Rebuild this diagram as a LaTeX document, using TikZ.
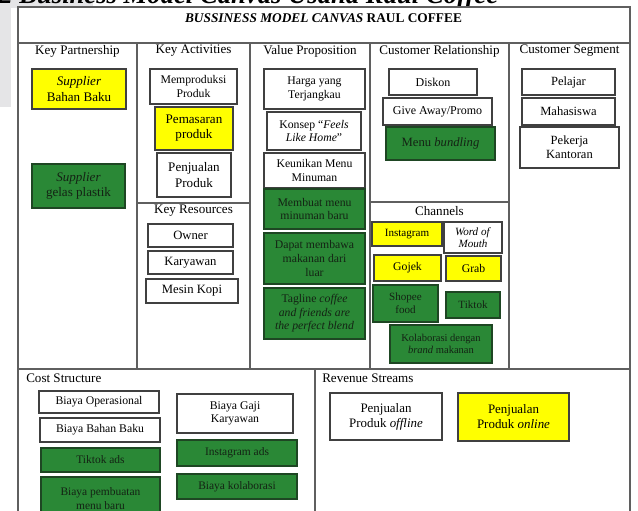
\documentclass[tikz,border=0pt]{standalone}
\usepackage{fontspec}
\setmainfont{Liberation Serif}
\definecolor{bmcgreen}{RGB}{42,136,54}
\definecolor{bmcyellow}{RGB}{255,255,0}
\definecolor{framegray}{RGB}{95,95,95}
\definecolor{pagegray}{RGB}{229,229,231}
\definecolor{gboxedge}{RGB}{30,70,35}
\definecolor{gtext}{RGB}{20,35,20}
\newcommand\bmcbox[7]{\node[#2, minimum width={(#5-#3)*0.75pt}, minimum height={(#6-#4)*0.75pt}] (#1) at ({(#3+#5)/2},{(#4+#6)/2}) {#7};}
\tikzset{
  fs/.style 2 args={font=\fontsize{#1}{#2}\selectfont},
  basebox/.style={draw=black!75, line width=0.8pt, inner sep=1pt, align=center, text=black, fs={9}{10.3}},
  wbox/.style={basebox, fill=white},
  ybox/.style={basebox, fill=bmcyellow},
  gbox/.style={basebox, fill=bmcgreen, draw=gboxedge, text=gtext},
  frame/.style={draw=framegray, line width=0.8pt},
  head/.style={fs={9.8}{11}, text=black, inner sep=0pt},
}
\begin{document}
\begin{tikzpicture}[x=0.75pt, y=-0.75pt]
\useasboundingbox (0,0) rectangle (638,510);
\clip (0,0) rectangle (638,510);
% page background bits
\fill[pagegray] (0,0) rectangle (93,8);
\fill[pagegray] (0,0) rectangle (11,107);
\node[anchor=base west, inner sep=0pt, font=\fontsize{20}{22}\selectfont\bfseries\itshape] (caption) at (-1,4) {2 Business Model Canvas Usaha Raul Coffee};
% frame
\fill[white] (18,8) rectangle (630,530);
\draw[frame] (18,7) rectangle (630,530);
\draw[frame] (18,43) -- (630,43);
\draw[frame] (137,43) -- (137,369);
\draw[frame] (250,43) -- (250,369);
\draw[frame] (370,43) -- (370,369);
\draw[frame] (509,43) -- (509,369);
\draw[frame] (18,369) -- (630,369);
\draw[frame] (137,203) -- (250,203);
\draw[frame] (370,202) -- (509,202);
\draw[frame] (315,369) -- (315,530);
% title
\node[fs={11.6}{13}, font=\bfseries, inner sep=0pt] (title) at (323.5,18) {\textit{BUSSINESS MODEL CANVAS} RAUL COFFEE};
% headers
\node[head] (hkp) at (77.5,51) {Key Partnership};
\node[head] (hka) at (193.5,51) {Key Activities};
\node[head] (hvp) at (310,51) {Value Proposition};
\node[head] (hcr) at (439.5,51) {Customer Relationship};
\node[head] (hcs) at (569.5,51) {Customer Segment};
\node[head] (hkr) at (193.5,211) {Key Resources};
\node[head] (hch) at (439.5,211) {Channels};
\node[head, anchor=west] (hcost) at (26,378) {Cost Structure};
\node[head, anchor=west] (hrev) at (322,378) {Revenue Streams};
% Key partnership
\bmcbox{kp1}{ybox, fs={9.8}{11.5}}{32}{69}{126}{109}{\textit{Supplier}\\Bahan Baku}
\bmcbox{kp2}{gbox, fs={9.8}{11.5}}{32}{164}{125}{208}{\textit{Supplier}\\gelas plastik}
% Key activities
\bmcbox{ka1}{wbox, fs={8.8}{10}}{150}{69}{237}{104}{Memproduksi\\Produk}
\bmcbox{ka2}{ybox, fs={9.8}{11.3}}{155}{107}{233}{150}{Pemasaran\\produk}
\bmcbox{ka3}{wbox, fs={9.8}{11.3}}{157}{153}{231}{197}{Penjualan\\Produk}
% Key resources
\bmcbox{kr1}{wbox, fs={9.5}{11}}{148}{224}{233}{247}{Owner}
\bmcbox{kr2}{wbox, fs={9.5}{11}}{148}{251}{233}{274}{Karyawan}
\bmcbox{kr3}{wbox, fs={9.5}{11}}{146}{279}{238}{303}{Mesin Kopi}
% Value proposition
\bmcbox{vp1}{wbox, fs={8.8}{10}}{264}{69}{365}{109}{Harga yang\\Terjangkau}
\bmcbox{vp2}{wbox, fs={8.8}{10}}{267}{112}{361}{150}{Konsep “\textit{Feels}\\\textit{Like Home}”}
\bmcbox{vp3}{wbox, fs={8.8}{10}}{264}{153}{365}{188}{Keunikan Menu\\Minuman}
\bmcbox{vp4}{gbox, fs={8.8}{10}}{264}{189}{365}{229}{Membuat menu\\minuman baru}
\bmcbox{vp5}{gbox, fs={8.8}{10.2}}{264}{233}{365}{284}{Dapat membawa\\makanan dari\\luar}
\bmcbox{vp6}{gbox, fs={8.8}{10.2}}{264}{288}{365}{339}{Tagline \textit{coffee}\\\textit{and friends are}\\\textit{the perfect blend}}
% Customer relationship
\bmcbox{cr1}{wbox, fs={9}{10.3}}{389}{69}{477}{95}{Diskon}
\bmcbox{cr2}{wbox, fs={9}{10.3}}{383}{98}{492}{125}{Give Away/Promo}
\bmcbox{cr3}{gbox, fs={9.5}{11}}{386}{127}{495}{160}{Menu \textit{bundling}}
% Channels
\bmcbox{ch1}{ybox, fs={8.3}{9.5}}{372}{222}{442}{246}{Instagram}
\bmcbox{ch2}{wbox, fs={8.3}{9.5}}{444}{222}{502}{253}{\textit{Word of}\\\textit{Mouth}}
\bmcbox{ch3}{ybox, fs={8.8}{10}}{374}{255}{441}{281}{Gojek}
\bmcbox{ch4}{ybox, fs={8.8}{10}}{446}{256}{501}{281}{Grab}
\bmcbox{ch5}{gbox, fs={8.3}{10}}{373}{285}{438}{322}{Shopee\\food}
\bmcbox{ch6}{gbox, fs={8.3}{10}}{446}{292}{500}{318}{Tiktok}
\bmcbox{ch7}{gbox, fs={7.9}{9.2}}{390}{325}{492}{363}{Kolaborasi dengan\\\textit{brand} makanan}
% Customer segment
\bmcbox{cs1}{wbox, fs={9.4}{11}}{522}{69}{615}{95}{Pelajar}
\bmcbox{cs2}{wbox, fs={9.4}{11}}{522}{98}{615}{125}{Mahasiswa}
\bmcbox{cs3}{wbox, fs={9.4}{10.8}}{520}{127}{619}{168}{Pekerja\\Kantoran}
% Cost structure
\bmcbox{co1}{wbox, fs={8.8}{10}}{39}{391}{159}{413}{Biaya Operasional}
\bmcbox{co2}{wbox, fs={8.8}{10}}{40}{418}{160}{442}{Biaya Bahan Baku}
\bmcbox{co3}{gbox, fs={8.6}{10}}{41}{448}{160}{472}{Tiktok ads}
\bmcbox{co4}{gbox, fs={8.6}{10.5}}{41}{477}{160}{520}{Biaya pembuatan\\menu baru}
\bmcbox{co5}{wbox, fs={8.8}{10.3}}{177}{394}{293}{433}{Biaya Gaji\\Karyawan}
\bmcbox{co6}{gbox, fs={8.6}{10}}{177}{440}{297}{466}{Instagram ads}
\bmcbox{co7}{gbox, fs={8.6}{10}}{177}{474}{297}{499}{Biaya kolaborasi}
% Revenue streams
\bmcbox{rs1}{wbox, fs={9.7}{11.3}}{330}{393}{442}{440}{Penjualan\\Produk \textit{offline}}
\bmcbox{rs2}{ybox, fs={9.7}{11.3}}{458}{393}{569}{441}{Penjualan\\Produk \textit{online}}
\end{tikzpicture}
\end{document}
